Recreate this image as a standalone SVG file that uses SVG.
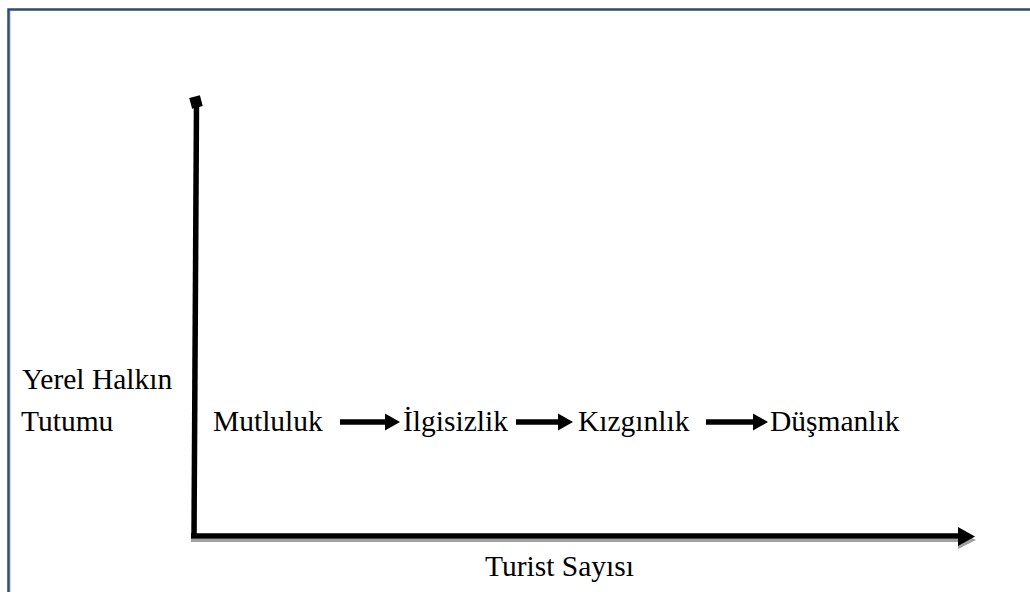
<svg xmlns="http://www.w3.org/2000/svg" width="1030" height="592" viewBox="0 0 1030 592">
<style>
.t{font-family:"Liberation Serif","Times New Roman",serif;font-size:29.5px;fill:#000}
.ax{stroke:#000;stroke-width:5.5;fill:none}
.ar{stroke:#000;stroke-width:5.5}
</style>
<rect width="1030" height="592" fill="#fff"/>
<g id="frame">
<path d="M8.5,600 V9.5 H1040" fill="none" stroke="#2f4b6e" stroke-width="2.5"/>
<line x1="10.5" y1="11" x2="10.5" y2="600" stroke="#c9d6e8" stroke-width="1"/>
</g>
<g id="axes">
<line x1="191" y1="540.5" x2="958" y2="540.5" stroke="#a0a0a0" stroke-width="3"/>
<polygon points="958,531 976,540 958,549" fill="#a0a0a0"/>
<line x1="196.5" y1="104" x2="194" y2="538" class="ax"/>
<line x1="191" y1="536" x2="960" y2="536" class="ax"/>
<polygon points="958,527 975,536.5 958,546" fill="#000"/>
<rect x="190.5" y="96.5" width="11" height="11" fill="#000" transform="rotate(-15 196 102)"/>
</g>
<g id="connectors">
<line x1="340" y1="422" x2="386" y2="422" class="ar"/>
<polygon points="385,413.5 400,422 385,430.5" fill="#000"/>
<line x1="516" y1="422" x2="559" y2="422" class="ar"/>
<polygon points="558,413.5 573,422 558,430.5" fill="#000"/>
<line x1="706" y1="422" x2="754" y2="422" class="ar"/>
<polygon points="753,413.5 768,422 753,430.5" fill="#000"/>
</g>
<g id="ylabel"><text class="t" x="22" y="389">Yerel Halkın</text><text class="t" x="21" y="431">Tutumu</text></g>
<g id="n1"><text class="t" x="213" y="431">Mutluluk</text></g>
<g id="n2"><text class="t" x="403" y="431">İlgisizlik</text></g>
<g id="n3"><text class="t" x="578" y="431">Kızgınlık</text></g>
<g id="n4"><text class="t" x="770" y="431">Düşmanlık</text></g>
<g id="xlabel"><text class="t" x="485" y="576">Turist Sayısı</text></g>
</svg>
